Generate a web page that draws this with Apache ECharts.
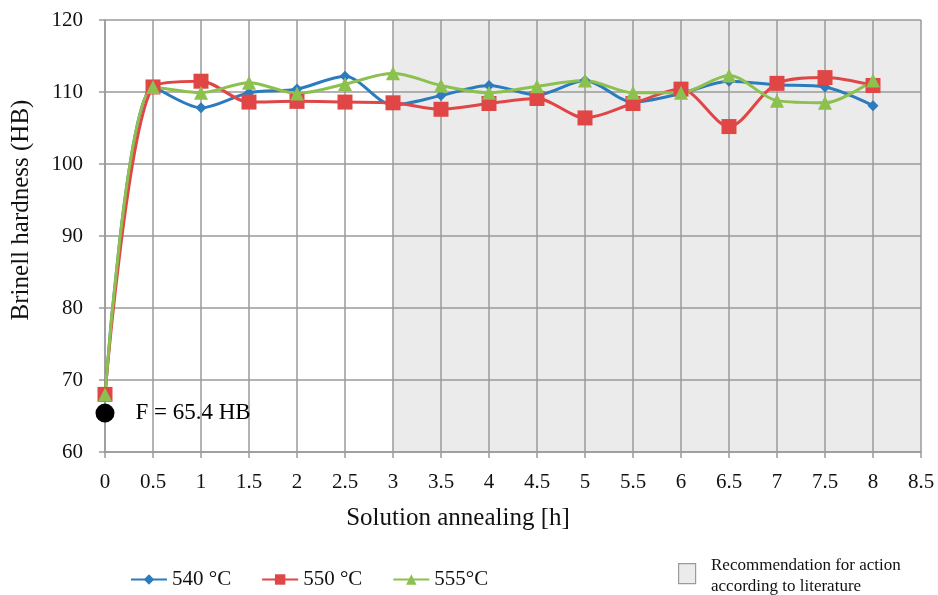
<!DOCTYPE html>
<html>
<head>
<meta charset="utf-8">
<script src="https://cdn.jsdelivr.net/npm/echarts@6/dist/echarts.min.js"></script>
<style>html,body{margin:0;padding:0;background:#fff}#c{width:938px;height:595px}</style>
</head>
<body>
<div id="c"></div>
<script>
var hours = [0, 0.5, 1, 1.5, 2, 2.5, 3, 3.5, 4, 4.5, 5, 5.5, 6, 6.5, 7, 7.5, 8];
var s540 = [68, 110.7, 107.8, 109.9, 110.4, 112.2, 108.2, 109.5, 110.9, 109.6, 111.6, 108.6, 109.8, 111.5, 111.0, 110.7, 108.1];
var s550 = [68, 110.7, 111.5, 108.6, 108.7, 108.6, 108.5, 107.6, 108.4, 109.1, 106.4, 108.4, 110.4, 105.2, 111.2, 112.0, 110.9];
var s555 = [68, 110.7, 109.9, 111.3, 109.8, 111.1, 112.6, 110.9, 109.9, 110.8, 111.6, 109.9, 109.9, 112.3, 108.8, 108.5, 111.6];
var seriesNames = ['540 °C', '550 °C', '555°C'];
var initialHardness = 65.4;
var recommendedRange = [3, 8.5];
var fontSerif = '"Liberation Serif", "DejaVu Serif", serif';
var colors = ['#2b7bbd', '#e04646', '#8cc04f'];

function pairs(arr) { return hours.map(function (h, i) { return [h, arr[i]]; }); }

var chart = echarts.init(document.getElementById('c'));
var lineCommon = function (name, data, color, symbol, size) {
  return {
    name: name, type: 'line', data: pairs(data), smooth: 0.3,
    symbol: symbol, symbolSize: size,
    lineStyle: { color: color, width: 3 },
    itemStyle: { color: color },
    z: 3
  };
};
chart.setOption({
  animation: false,
  color: colors,
  grid: { left: 105, right: 17, top: 20, bottom: 143, outerBoundsMode: 'none', containLabel: false },
  xAxis: {
    type: 'value', min: 0, max: 8.5, interval: 0.5,
    name: 'Solution annealing [h]', nameLocation: 'middle', nameGap: 54,
    nameTextStyle: { fontFamily: fontSerif, fontSize: 25, color: '#111', padding: [0, 110, 0, 0] },
    axisLine: { show: true, lineStyle: { color: '#9a9a9a', width: 1.5 } },
    axisTick: { show: true, length: 6, lineStyle: { color: '#9a9a9a', width: 1.5 } },
    axisLabel: { fontFamily: fontSerif, fontSize: 21, color: '#111', margin: 20 },
    splitLine: { show: true, lineStyle: { color: '#9a9a9a', width: 1.5 } }
  },
  yAxis: {
    type: 'value', min: 60, max: 120, interval: 10,
    name: 'Brinell hardness (HB)', nameLocation: 'middle', nameGap: 71,
    nameTextStyle: { fontFamily: fontSerif, fontSize: 25, color: '#111', padding: [0, 0, 0, 52] },
    axisLine: { show: true, lineStyle: { color: '#9a9a9a', width: 1.5 } },
    axisTick: { show: true, length: 6, lineStyle: { color: '#9a9a9a', width: 1.5 } },
    axisLabel: { fontFamily: fontSerif, fontSize: 21, color: '#111', margin: 22 },
    splitLine: { show: true, lineStyle: { color: '#9a9a9a', width: 1.5 } }
  },
  legend: {
    left: 125, bottom: 0, itemGap: 30, itemWidth: 36, itemHeight: 13,
    data: seriesNames,
    textStyle: { fontFamily: fontSerif, fontSize: 21, color: '#111' }
  },
  series: [
    {
      name: 'rec', type: 'line', data: [], silent: true, z: -1,
      markArea: {
        silent: true, z: -1,
        itemStyle: { color: '#ebebeb' },
        data: [[{ xAxis: recommendedRange[0] }, { xAxis: recommendedRange[1] }]]
      }
    },
    lineCommon(seriesNames[0], s540, colors[0], 'diamond', 11),
    lineCommon(seriesNames[1], s550, colors[1], 'rect', 15),
    lineCommon(seriesNames[2], s555, colors[2], 'triangle', 14),
    {
      name: 'F', type: 'scatter', data: [[0, initialHardness]],
      symbol: 'circle', symbolSize: 19, itemStyle: { color: '#000', opacity: 1 },
      label: { show: true, position: 'right', distance: 21, formatter: 'F = ' + initialHardness + ' HB',
        fontFamily: fontSerif, fontSize: 23, color: '#000' },
      z: 5
    }
  ],
  graphic: [
    { type: 'rect', left: 678, top: 563, shape: { width: 17, height: 20 },
      style: { fill: '#ebebeb', stroke: '#9a9a9a', lineWidth: 1.2 } },
    { type: 'text', left: 711, top: 555,
      style: { text: 'Recommendation for action\naccording to literature', fontFamily: fontSerif, fontSize: 17, lineHeight: 21, fill: '#111' } }
  ]
});
</script>
</body>
</html>
